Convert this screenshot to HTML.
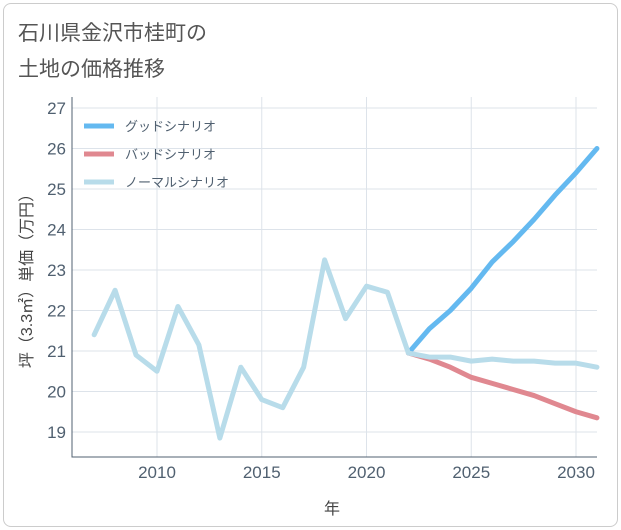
<!DOCTYPE html>
<html><head><meta charset="utf-8"><style>
body{margin:0;background:#fff;font-family:"Liberation Sans","Noto Sans CJK JP",sans-serif}
#frame{position:absolute;left:3px;top:3px;width:613px;height:522px;border:1px solid #ccc;border-radius:8px}
</style></head><body>
<div id="frame"></div>
<svg width="621" height="530" style="position:absolute;left:0;top:0" id="svg">
<text x="18" y="40" font-size="21" fill="#555" font-family="Liberation Sans,Noto Sans CJK JP,sans-serif">石川県金沢市桂町の</text>
<text x="18" y="76" font-size="21" fill="#555" font-family="Liberation Sans,Noto Sans CJK JP,sans-serif">土地の価格推移</text>
<g id="grid"></g><g id="series"></g><g id="legend"></g>
<text x="332" y="514" font-size="16" fill="#444" text-anchor="middle" font-family="Liberation Sans,Noto Sans CJK JP,sans-serif">年</text>
<text transform="translate(32,277) rotate(-90)" font-size="16" fill="#444" text-anchor="middle" font-family="Liberation Sans,Noto Sans CJK JP,sans-serif">坪（3.3㎡）単価（万円）</text>
</svg>
<script>
const yTicks=[19,20,21,22,23,24,25,26,27];
const xTicks=[2010,2015,2020,2025,2030];
const normalYears=[2007,2008,2009,2010,2011,2012,2013,2014,2015,2016,2017,2018,2019,2020,2021,2022,2023,2024,2025,2026,2027,2028,2029,2030,2031];
const normalValues=[21.4,22.5,20.9,20.5,22.1,21.15,18.85,20.6,19.8,19.6,20.6,23.25,21.8,22.6,22.45,20.95,20.85,20.85,20.75,20.8,20.75,20.75,20.7,20.7,20.6];
const futureYears=[2022,2023,2024,2025,2026,2027,2028,2029,2030,2031];
const goodValues=[20.95,21.55,22.0,22.55,23.2,23.7,24.25,24.85,25.4,26.0];
const badValues=[20.95,20.8,20.6,20.35,20.2,20.05,19.9,19.7,19.5,19.35];
const L=72,R=597,T=97,B=457;
const xs=y=>157+(y-2010)*20.95;
const ys=v=>432-(v-19)*40.5;
const NS='http://www.w3.org/2000/svg';
function mk(parent,tag,attrs){const e=document.createElementNS(NS,tag);for(const k in attrs)e.setAttribute(k,attrs[k]);parent.appendChild(e);return e;}
const grid=document.getElementById('grid');
const bg=mk(grid,'rect',{x:L,y:T,width:R-L,height:B-T,fill:'#fff'});


yTicks.forEach(v=>{
 const l=mk(grid,'line',{x1:L,x2:R,y1:ys(v),y2:ys(v),stroke:'#dde3ea','stroke-width':1});
 
 
 const t=mk(grid,'text',{x:L-6,y:ys(v)+6,'font-size':17,fill:'#506070','text-anchor':'end'});
 t.textContent=v;
 
 
});
xTicks.forEach(v=>{
 const l=mk(grid,'line',{x1:xs(v),x2:xs(v),y1:T,y2:B,stroke:'#dde3ea','stroke-width':1});
 
 
 const t=mk(grid,'text',{x:xs(v),y:B+21,'font-size':17,fill:'#506070','text-anchor':'middle'});
 t.textContent=v;
 
 
});
const ax=mk(grid,'path',{d:`M${L},${T}V${B}H${R}`,stroke:'#506070',fill:'none','stroke-width':1});


const sg=document.getElementById('series');
function line(xv,yv,color,name){
 const d=xv.map((x,i)=>(i?'L':'M')+xs(x)+','+ys(yv[i])).join('');
 const p=mk(sg,'path',{d,stroke:color,fill:'none','stroke-width':5,'stroke-linejoin':'round','stroke-linecap':'round'});
 
 
}
line(futureYears,goodValues,'#64b9f0','good-scenario-line');
line(futureYears,badValues,'#e08890','bad-scenario-line');
line(normalYears,normalValues,'#b8dcea','normal-scenario-line');
const lg=document.getElementById('legend');
[['グッドシナリオ','#64b9f0','legend-good'],['バッドシナリオ','#e08890','legend-bad'],['ノーマルシナリオ','#b8dcea','legend-normal']].forEach((e,i)=>{
 const y=126+i*28;
 const l=mk(lg,'line',{x1:84,x2:114,y1:y,y2:y,stroke:e[1],'stroke-width':5});
 
 
 const t=mk(lg,'text',{x:125,y:y+5,'font-size':13,fill:'#506070'});
 t.textContent=e[0];
 
 
});
</script>
</body></html>
